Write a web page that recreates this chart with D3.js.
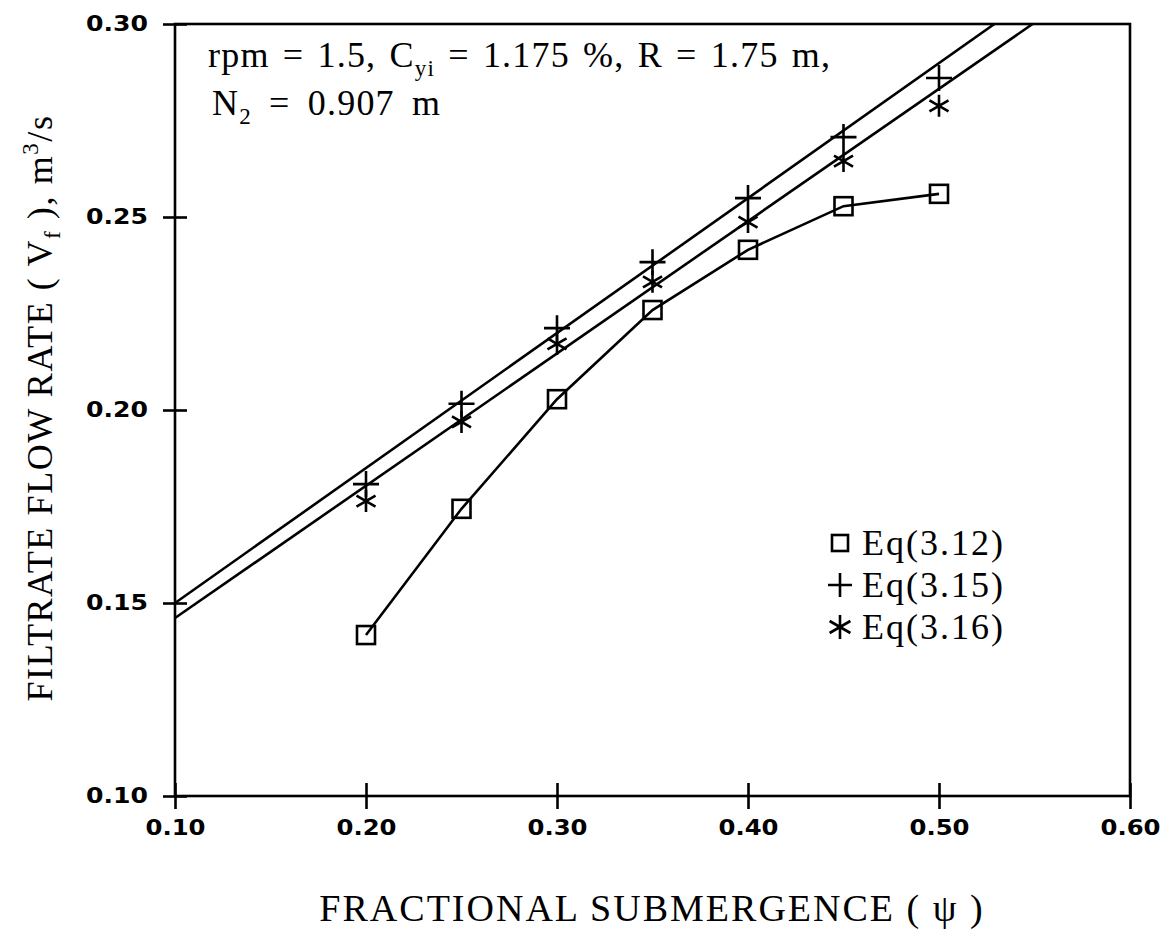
<!DOCTYPE html>
<html>
<head>
<meta charset="utf-8">
<script src="https://cdn.jsdelivr.net/npm/d3@7"></script>
<style>
  html, body { margin: 0; padding: 0; background: #fff; }
  svg { display: block; }
</style>
</head>
<body>
<script>
// ---- data ----
const psi = [0.20, 0.25, 0.30, 0.35, 0.40, 0.45, 0.50];
const eq312 = [0.1417, 0.1744, 0.2028, 0.2259, 0.2415, 0.2528, 0.2560];
const eq315 = [0.1808, 0.2016, 0.2212, 0.2383, 0.2549, 0.2707, 0.2860];
const eq316 = [0.1764, 0.1969, 0.2171, 0.2332, 0.2487, 0.2645, 0.2788];
// fitted straight lines (end points)
const fit315X = [0.10, 0.529];
const fit315Y = [0.150, 0.300];
const fit316X = [0.10, 0.549];
const fit316Y = [0.1461, 0.300];
const xTicks = [0.10, 0.20, 0.30, 0.40, 0.50, 0.60];
const yTicks = [0.10, 0.15, 0.20, 0.25, 0.30];
const legendLabels = ["Eq(3.12)", "Eq(3.15)", "Eq(3.16)"];

const W = 1170, H = 948;
const svg = d3.select("body").append("svg").attr("width", W).attr("height", H);

const x = d3.scaleLinear().domain([0.10, 0.60]).range([175, 1130]);
const y = d3.scaleLinear().domain([0.10, 0.30]).range([796, 24]);

const serif = "'Liberation Serif', 'Times New Roman', serif";
const sans = "'DejaVu Sans', 'Liberation Sans', Arial, sans-serif";
const SW = 2.6;

const clipId = "plotclip";
svg.append("clipPath").attr("id", clipId).append("rect")
  .attr("x", x(0.10)).attr("y", y(0.30)).attr("width", x(0.60) - x(0.10)).attr("height", y(0.10) - y(0.30));

// axes
const yAxis = svg.append("g").attr("transform", `translate(${x(0.10)},0)`)
  .call(d3.axisLeft(y).tickValues(yTicks).tickSize(12).tickPadding(15).tickFormat(d3.format(".2f")));
yAxis.select(".domain").remove();
yAxis.selectAll(".tick line").attr("x1", 12).attr("stroke", "#000").attr("stroke-width", SW);
yAxis.selectAll(".tick text")
  .attr("font-family", sans).attr("font-weight", "bold").attr("font-size", 21)
  .attr("fill", "#000")
  .attr("textLength", 62).attr("lengthAdjust", "spacingAndGlyphs");

const xAxis = svg.append("g").attr("transform", `translate(0,${y(0.10)})`)
  .call(d3.axisBottom(x).tickValues(xTicks).tickSize(13).tickPadding(11).tickFormat(d3.format(".2f")));
xAxis.select(".domain").remove();
xAxis.selectAll(".tick line").attr("y1", -13).attr("stroke", "#000").attr("stroke-width", SW);
xAxis.selectAll(".tick text")
  .attr("font-family", sans).attr("font-weight", "bold").attr("font-size", 21)
  .attr("fill", "#000")
  .attr("textLength", 60).attr("lengthAdjust", "spacingAndGlyphs");

// frame
svg.append("rect")
  .attr("x", x(0.10)).attr("y", y(0.30))
  .attr("width", x(0.60) - x(0.10)).attr("height", y(0.10) - y(0.30))
  .attr("fill", "none").attr("stroke", "#000").attr("stroke-width", SW);

const plot = svg.append("g").attr("clip-path", `url(#${clipId})`);

// fitted lines
const line = d3.line().x(d => x(d[0])).y(d => y(d[1]));
plot.append("path").datum(fit315X.map((v, i) => [v, fit315Y[i]]))
  .attr("d", line).attr("fill", "none").attr("stroke", "#000").attr("stroke-width", SW);
plot.append("path").datum(fit316X.map((v, i) => [v, fit316Y[i]]))
  .attr("d", line).attr("fill", "none").attr("stroke", "#000").attr("stroke-width", SW);

// Eq(3.12) connected
svg.append("path").datum(psi.map((v, i) => [v, eq312[i]]))
  .attr("d", line).attr("fill", "none").attr("stroke", "#000").attr("stroke-width", SW);

// marker drawers
function drawSquare(g, cx, cy, s) {
  g.append("rect").attr("x", cx - s / 2).attr("y", cy - s / 2).attr("width", s).attr("height", s)
    .attr("fill", "none").attr("stroke", "#000").attr("stroke-width", SW);
}
function drawPlus(g, cx, cy, r) {
  g.append("path").attr("d", `M${cx - r},${cy}H${cx + r}M${cx},${cy - r}V${cy + r}`)
    .attr("stroke", "#000").attr("stroke-width", SW).attr("fill", "none");
}
function drawStar(g, cx, cy, r) {
  let d = "";
  for (let k = 0; k < 3; k++) {
    const a = Math.PI / 2 + k * Math.PI / 3;
    const dx = r * Math.cos(a), dy = r * Math.sin(a);
    d += `M${cx - dx},${cy - dy}L${cx + dx},${cy + dy}`;
  }
  g.append("path").attr("d", d).attr("stroke", "#000").attr("stroke-width", SW).attr("fill", "none");
}

const mk = svg.append("g");
psi.forEach((p, i) => {
  drawSquare(mk, x(p), y(eq312[i]), 18);
  drawPlus(mk, x(p), y(eq315[i]), 13);
  drawStar(mk, x(p), y(eq316[i]), 11);
});

// legend
const lg = svg.append("g");
const legY = [543, 585, 627];
drawSquare(lg, 840, legY[0], 16);
drawPlus(lg, 840, legY[1], 12);
drawStar(lg, 840, legY[2], 12);
legendLabels.forEach((t, i) => {
  lg.append("text").attr("x", 862).attr("y", legY[i] + 12)
    .attr("font-family", serif).attr("font-size", 36).attr("letter-spacing", 2).text(t);
});

// annotation
const ann = svg.append("text").attr("x", 208).attr("y", 67)
  .attr("font-family", serif).attr("font-size", 36)
  .attr("letter-spacing", 1.2).attr("word-spacing", 3);
ann.append("tspan").text("rpm = 1.5, C");
ann.append("tspan").attr("font-size", 23).attr("dy", 9).text("yi");
ann.append("tspan").attr("dy", -9).text(" = 1.175 %, R = 1.75 m,");

const ann2 = svg.append("text").attr("x", 212).attr("y", 115)
  .attr("font-family", serif).attr("font-size", 36)
  .attr("letter-spacing", 1.2).attr("word-spacing", 7);
ann2.append("tspan").text("N");
ann2.append("tspan").attr("font-size", 23).attr("dy", 9).text("2");
ann2.append("tspan").attr("dy", -9).text(" = 0.907 m");

// axis titles
svg.append("text").attr("x", 652).attr("y", 921).attr("text-anchor", "middle")
  .attr("font-family", serif).attr("font-size", 38).attr("letter-spacing", 2)
  .text("FRACTIONAL SUBMERGENCE ( ψ )");

const yl = svg.append("text").attr("transform", "translate(52,408) rotate(-90)")
  .attr("text-anchor", "middle").attr("font-family", serif).attr("font-size", 36)
  .attr("letter-spacing", 1.6);
yl.append("tspan").text("FILTRATE FLOW RATE ( V");
yl.append("tspan").attr("font-size", 23).attr("dy", 8).text("f");
yl.append("tspan").attr("dy", -8).text(" ), m");
yl.append("tspan").attr("font-size", 23).attr("dy", -14).text("3");
yl.append("tspan").attr("dy", 14).text("/s");
</script>
</body>
</html>
